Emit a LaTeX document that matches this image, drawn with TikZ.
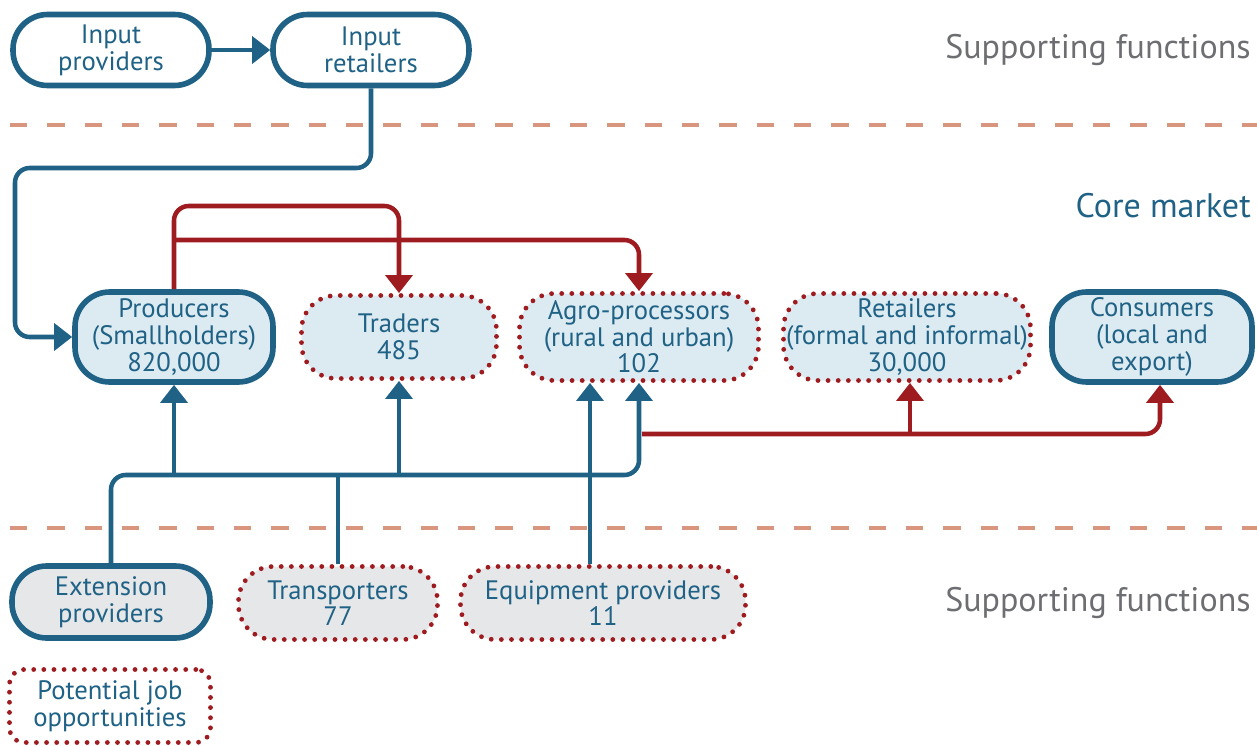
\documentclass[tikz,border=0pt]{standalone}
\usepackage{fontspec}
\setmainfont{PT Sans}
\usetikzlibrary{arrows.meta}
\definecolor{vblue}{HTML}{1F6285}
\definecolor{vred}{HTML}{9E1B20}
\definecolor{vfill}{HTML}{DCEAF1}
\definecolor{gfill}{HTML}{E6E7E9}
\definecolor{gtext}{HTML}{6D6E71}
\definecolor{dashc}{HTML}{D8967E}
\begin{document}
\begin{tikzpicture}[x=0.75pt,y=-0.75pt,
  base/.style={align=center, text=vblue, inner sep=0pt,
    font=\fontsize{20}{20}\selectfont, rounded corners=26pt},
  sz/.style 2 args={minimum width=#1*0.75pt, minimum height=#2*0.75pt},
  solidbox/.style={base, draw=vblue, line width=4.2pt},
  dotbox/.style={base, draw=vred, line width=3.6pt, line cap=round,
    dash pattern=on 0pt off 7.6pt},
  lab/.style={anchor=east, inner sep=0pt, font=\fontsize{25.5}{30}\selectfont},
  bline/.style={draw=vblue, line width=3.4pt, rounded corners=11pt},
  rline/.style={draw=vred, line width=3.4pt, rounded corners=11pt},
  arr/.style={-{Triangle[width=20pt,length=13.5pt]}},
  sep/.style={draw=dashc, line width=2.4pt, dash pattern=on 13pt off 15pt}
]
\useasboundingbox (0,0) rectangle (1257,746);

% section separators and labels
\coordinate (s1a) at (10,125);  \coordinate (s1b) at (1257,125);
\coordinate (s2a) at (10,528);  \coordinate (s2b) at (1257,528);
\draw[sep] (s1a) -- (s1b);
\draw[sep] (s2a) -- (s2b);
\node[lab, text=gtext] (sfa) at (1251,50) {Supporting functions};
\node[lab, text=vblue] (core) at (1251,206) {Core market};
\node[lab, text=gtext] (sfb) at (1251,603) {Supporting functions};

% supporting functions (input side)
\node[solidbox, fill=white, sz={196}{71}] (ip) at (111,50) {Input\\providers};
\node[solidbox, fill=white, sz={196}{71}] (ir) at (371,50) {Input\\retailers};

% core market actors
\node[solidbox, fill=vfill, sz={198}{90}] (prod) at (174,337) {Producers\\(Smallholders)\\820,000};
\node[dotbox, fill=vfill, sz={195}{83}] (trad) at (399,337) {Traders\\485};
\node[dotbox, fill=vfill, sz={239}{87}] (agro) at (639,337) {Agro-processors\\(rural and urban)\\102};
\node[dotbox, fill=vfill, sz={247}{87}] (ret) at (907,337) {Retailers\\(formal and informal)\\30,000};
\node[solidbox, fill=vfill, sz={200}{90}] (cons) at (1152,337) {Consumers\\(local and\\export)};

% supporting functions (service side)
\node[solidbox, fill=gfill, sz={198}{72}] (ext) at (111,602) {Extension\\providers};
\node[dotbox, fill=gfill, sz={199}{73}] (trans) at (338,603) {Transporters\\77};
\node[dotbox, fill=gfill, sz={285}{73}] (equip) at (603,603) {Equipment providers\\11};

% legend
\node[dotbox, fill=white, rounded corners=11pt, sz={201}{73}] (pot) at (110,706) {Potential job\\opportunities};

% input flows
\draw[bline, arr] (ip.east) -- (ir.west);
\coordinate (tl) at (15,168);
\draw[bline, arr] (ir.south) |- (tl) |- (prod.west);

% product flows
\coordinate (rtop) at (399,206);
\coordinate (rmid) at (174,240);
\draw[rline, arr] (prod.north) |- (rtop) -- (trad.north);
\draw[rline, arr] (rmid) -| (agro.north);
\coordinate (rlo) at (642,434);
\coordinate (cx) at (1160,0);
\draw[rline, arr] (rlo) -| (cons.south -| cx);
\coordinate (rx) at (910,0);
\draw[rline, arr] (rx |- rlo) -- (ret.south -| rx);

% service flows
\coordinate (bbus) at (639,475);
\draw[bline, arr] (ext.north) |- (bbus) -- (agro.south);
\draw[bline, arr] (prod.south |- bbus) -- (prod.south);
\draw[bline, arr] (trad.south |- bbus) -- (trad.south);
\draw[bline] (trans.north) -- (trans.north |- bbus);
\coordinate (ex) at (590,0);
\draw[bline, arr] (equip.north -| ex) -- (agro.south -| ex);
\end{tikzpicture}
\end{document}
